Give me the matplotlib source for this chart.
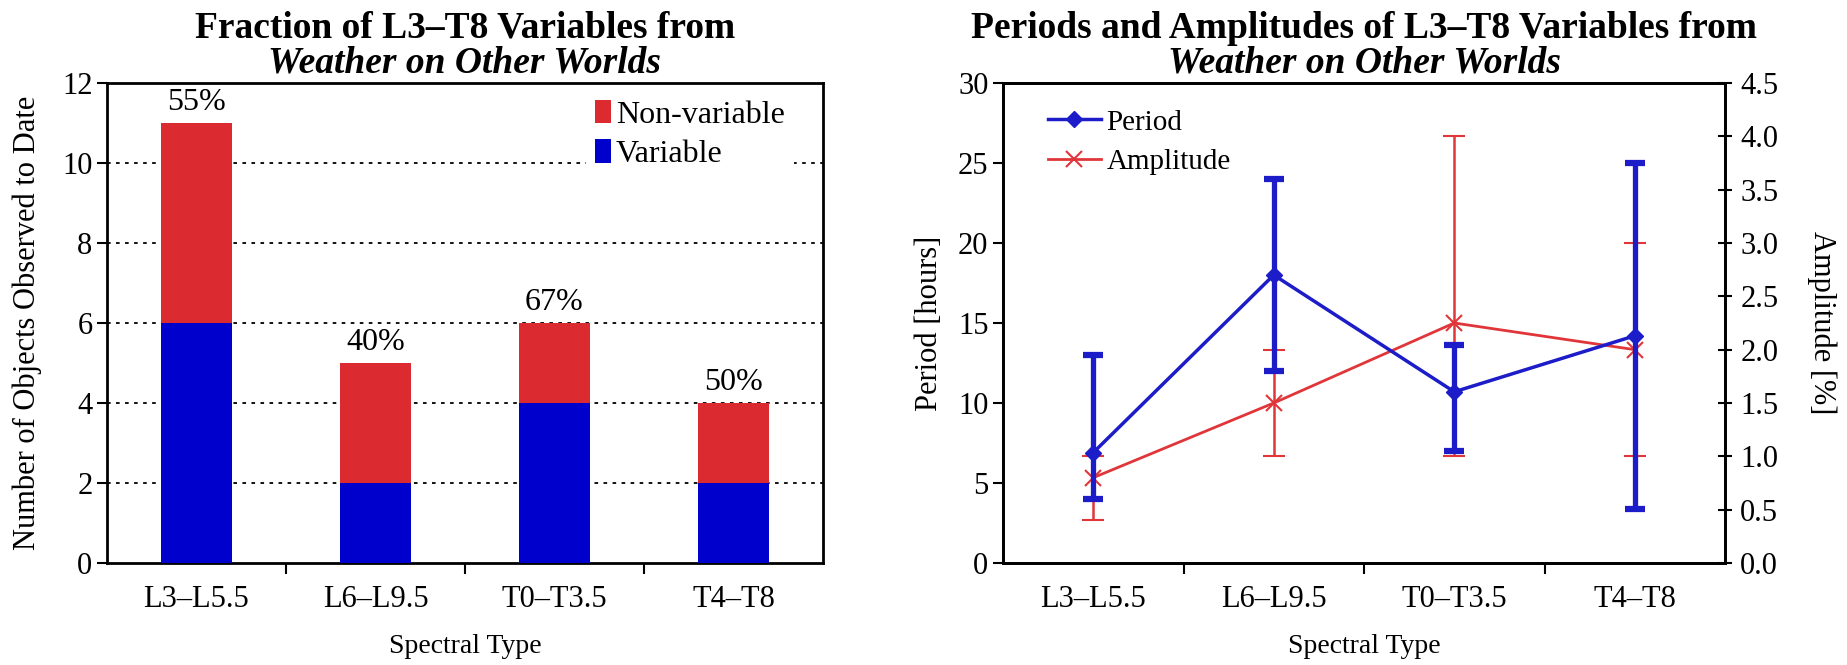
import matplotlib
matplotlib.use("Agg")
import matplotlib.pyplot as plt
from matplotlib.lines import Line2D
import numpy as np

plt.rcParams['font.family'] = ['Liberation Serif', 'DejaVu Serif']

# Data
spectral_types = ["L3–L5.5", "L6–L9.5", "T0–T3.5", "T4–T8"]
variable = [6, 2, 4, 2]
non_variable = [5, 3, 2, 2]
pct_labels = ["55%", "40%", "67%", "50%"]

period = [6.9, 18.0, 10.7, 14.2]
period_low = [4.0, 12.0, 7.0, 3.4]
period_high = [13.0, 24.0, 13.6, 25.0]

amplitude = [0.8, 1.5, 2.25, 2.0]
amp_low = [0.4, 1.0, 1.0, 1.0]
amp_high = [1.0, 2.0, 4.0, 3.0]

RED = "#dc2b30"
BLUE = "#0000cc"
LBLUE = "#1c1cc8"
LRED = "#e0363a"

TICK = 22
LAB = 22
TITLE = 27
W, H = 1847, 665

fig = plt.figure(figsize=(W / 100, H / 100), dpi=100)

# --- Left: stacked bars
ax1 = fig.add_axes([107/W, 1-563/H, 716/W, 480/H])
x = np.arange(len(spectral_types))
ax1.bar(x, variable, width=0.4, color=BLUE, label="Variable", zorder=3)
ax1.bar(x, non_variable, bottom=variable, width=0.4, color=RED, label="Non-variable", zorder=3)
for xi, v, nv, lab in zip(x, variable, non_variable, pct_labels):
    ax1.text(xi, v + nv + 0.15, lab, ha="center", va="bottom", fontsize=23)
ax1.set_xlim(-0.5, 3.5)
ax1.set_ylim(0, 12)
ax1.set_yticks(range(0, 13, 2))
ax1.set_xticks(x)
ax1.set_xticklabels(spectral_types)
ax1.set_xticks([0.5, 1.5, 2.5], minor=True)
ax1.tick_params(axis="x", which="major", length=0, pad=16, labelsize=TICK)
ax1.tick_params(axis="x", which="minor", length=8, width=1.5, direction="out")
ax1.tick_params(axis="y", length=7, width=1.5, labelsize=TICK)
for y in range(2, 12, 2):
    ax1.axhline(y, color="black", ls=(0, (2, 3)), lw=1.3, zorder=1)
for s in ax1.spines.values():
    s.set_linewidth(2)
ax1.set_xlabel("Spectral Type", fontsize=20, labelpad=14)
ax1.set_ylabel("Number of Objects Observed to Date", fontsize=LAB, labelpad=14)
h, l = ax1.get_legend_handles_labels()
leg1 = ax1.legend(h[::-1], l[::-1], loc="upper right", frameon=True, fontsize=23,
                  handlelength=0.5, handleheight=0.75, handletextpad=0.15,
                  borderaxespad=0, borderpad=0.3, labelspacing=0.3, edgecolor="none",
                  framealpha=1, bbox_to_anchor=(0.96, 0.985))
leg1.set_zorder(5)
fig.text((107 + 823) / 2 / W, 1 - 28/H, "Fraction of L3–T8 Variables from",
         ha="center", va="center", fontsize=TITLE, fontweight="bold")
fig.text((107 + 823) / 2 / W, 1 - 63/H, "Weather on Other Worlds",
         ha="center", va="center", fontsize=TITLE, fontweight="bold", style="italic")

# --- Right: period and amplitude
ax2 = fig.add_axes([1003/W, 1-563/H, 722/W, 480/H])
ax3 = ax2.twinx()
p = np.array(period)
perr = [p - np.array(period_low), np.array(period_high) - p]
a = np.array(amplitude)
aerr = [a - np.array(amp_low), np.array(amp_high) - a]
ax2.errorbar(x, p, yerr=perr, color=LBLUE, lw=2.5, elinewidth=3.8, capsize=7,
             capthick=4.5, marker="D", ms=8, zorder=3)
ax3.errorbar(x, a, yerr=aerr, color=LRED, lw=2, elinewidth=1.8, capsize=8,
             capthick=2.2, marker="x", ms=12, mew=1.5, zorder=2)
ax2.set_zorder(ax3.get_zorder() + 1)
ax2.patch.set_visible(False)
ax2.set_xlim(-0.5, 3.5)
ax2.set_ylim(0, 30)
ax3.set_ylim(0, 4.5)
ax2.set_yticks(range(0, 31, 5))
amp_ticks = np.arange(0, 4.51, 0.5)
ax3.set_yticks(amp_ticks)
ax3.set_yticklabels([f"{v:.1f}" for v in amp_ticks])
ax2.set_xticks(x)
ax2.set_xticklabels(spectral_types)
ax2.set_xticks([0.5, 1.5, 2.5], minor=True)
ax2.tick_params(axis="x", which="major", length=0, pad=16, labelsize=TICK)
ax2.tick_params(axis="x", which="minor", length=8, width=1.5, direction="out")
ax2.tick_params(axis="y", length=7, width=1.5, labelsize=TICK)
ax3.tick_params(axis="y", length=10, width=1.5, direction="inout", labelsize=TICK, pad=6)
for s in list(ax2.spines.values()) + list(ax3.spines.values()):
    s.set_linewidth(2)
ax2.set_xlabel("Spectral Type", fontsize=20, labelpad=14)
ax2.set_ylabel("Period [hours]", fontsize=LAB, labelpad=10)
ax3.set_ylabel("Amplitude [%]", fontsize=LAB, rotation=270, labelpad=42)
handles = [Line2D([], [], color=LBLUE, lw=2.5, marker="D", ms=8),
           Line2D([], [], color=LRED, lw=2, marker="x", ms=12, mew=1.5)]
ax2.legend(handles, ["Period", "Amplitude"], loc="upper left", frameon=False, fontsize=21,
           handlelength=1.8, handletextpad=0.2, labelspacing=0.45,
           bbox_to_anchor=(0.026, 1.0))
fig.text((1003 + 1725) / 2 / W, 1 - 28/H, "Periods and Amplitudes of L3–T8 Variables from",
         ha="center", va="center", fontsize=TITLE, fontweight="bold")
fig.text((1003 + 1725) / 2 / W, 1 - 63/H, "Weather on Other Worlds",
         ha="center", va="center", fontsize=TITLE, fontweight="bold", style="italic")

fig.savefig("out.png", dpi=100)
